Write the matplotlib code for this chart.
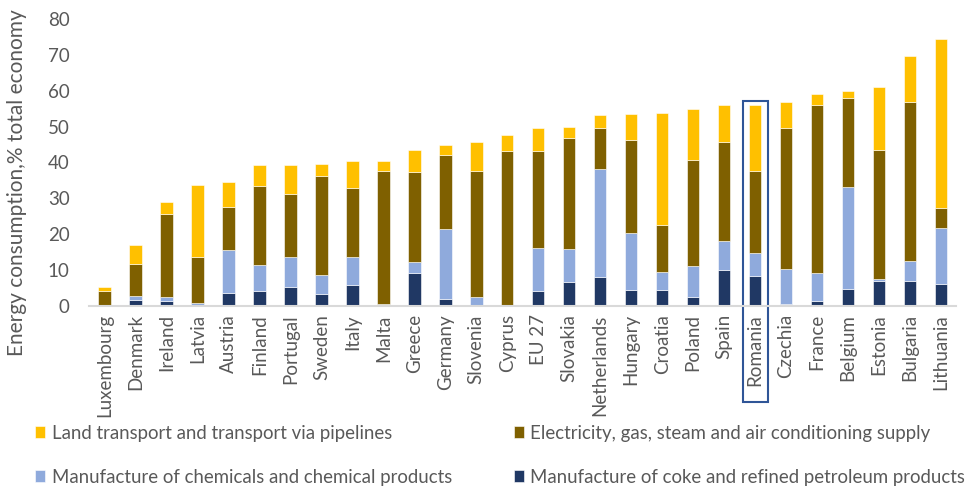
import matplotlib
matplotlib.use("Agg")
import matplotlib.pyplot as plt
from matplotlib.patches import Rectangle
import numpy as np

countries = ["Luxembourg", "Denmark", "Ireland", "Latvia", "Austria", "Finland",
             "Portugal", "Sweden", "Italy", "Malta", "Greece", "Germany",
             "Slovenia", "Cyprus", "EU 27", "Slovakia", "Netherlands", "Hungary",
             "Croatia", "Poland", "Spain", "Romania", "Czechia", "France",
             "Belgium", "Estonia", "Bulgaria", "Lithuania"]

coke = [0.0, 1.7, 1.3, 0.0, 3.7, 4.1, 5.3, 3.2, 5.9, 0.0, 9.2, 2.0,
        0.0, 0.0, 4.0, 6.7, 8.1, 4.3, 4.3, 2.5, 10.0, 8.3, 0.4, 1.3,
        4.6, 6.8, 6.8, 6.1]
chemicals = [0.3, 1.1, 1.2, 0.7, 11.8, 7.2, 8.4, 5.4, 7.6, 0.4, 3.0, 19.3,
             2.5, 0.0, 12.1, 9.1, 30.1, 16.1, 5.1, 8.7, 8.2, 6.3, 10.0, 7.9,
             28.5, 0.8, 5.7, 15.7]
electricity = [3.7, 8.8, 23.1, 12.8, 12.2, 22.2, 17.6, 27.5, 19.3, 37.3, 25.2, 20.9,
               35.2, 43.1, 27.0, 31.0, 11.4, 25.8, 13.1, 29.4, 27.6, 23.1, 39.2, 46.7,
               24.9, 35.8, 44.3, 5.5]
land_transport = [1.2, 5.4, 3.3, 20.3, 6.7, 5.8, 8.0, 3.5, 7.6, 2.7, 6.1, 2.7,
                  7.9, 4.6, 6.5, 3.0, 3.6, 7.3, 31.2, 14.4, 10.1, 18.2, 7.2, 3.3,
                  1.9, 17.6, 13.0, 47.1]

series = [
    ("Manufacture of coke and refined petroleum products", coke, "#203864"),
    ("Manufacture of chemicals and chemical products", chemicals, "#8FAADC"),
    ("Electricity, gas, steam and air conditioning supply", electricity, "#7F6000"),
    ("Land transport and transport via pipelines", land_transport, "#FFC000"),
]

highlight = "Romania"


def main():
    plt.rcParams["font.family"] = ["Lato", "DejaVu Sans"]
    fig = plt.figure(figsize=(9.79, 4.87), dpi=100)
    ax = fig.add_axes([0.091, 0.372, 0.886, 0.589])

    x = np.arange(len(countries))
    bottom = np.zeros(len(countries))
    handles = {}
    for name, vals, color in series:
        vals = np.array(vals)
        bars = ax.bar(x, vals, 0.4, bottom=bottom, color=color,
                      edgecolor="white", linewidth=0.4, label=name)
        handles[name] = bars
        bottom += vals

    ax.set_xlim(-0.5, len(countries) - 0.5)
    ax.set_ylim(0, 80)
    ax.set_yticks(range(0, 81, 10))
    ax.set_xticks(x)
    ax.set_xticklabels(countries, rotation=90, fontsize=13.5, color="#595959")
    ax.tick_params(axis="y", labelsize=13.5, labelcolor="#595959", length=0, pad=14)
    ax.tick_params(axis="x", length=0, pad=6)
    for side in ["top", "right", "left"]:
        ax.spines[side].set_visible(False)
    ax.spines["bottom"].set_color("#D9D9D9")
    ax.spines["bottom"].set_linewidth(1.5)
    ax.set_ylabel("Energy consumption,% total economy", fontsize=15,
                  color="#595959")
    ax.yaxis.set_label_coords(-0.072, 0.43)

    # box around the highlighted country
    i = countries.index(highlight)
    ax.add_patch(Rectangle((i - 0.4, -26.8), 0.8, 84.0, fill=False,
                           edgecolor="#2F5597", linewidth=1.5, clip_on=False))

    # column-wise fill: row 1 = land, electricity; row 2 = chemicals, coke
    order = [series[3][0], series[1][0], series[2][0], series[0][0]]
    fig.legend([handles[n] for n in order], order, loc="upper left",
               bbox_to_anchor=(0.036, 0.128), ncol=2, frameon=False,
               fontsize=13.4, labelcolor="#595959", handlelength=0.55,
               handleheight=0.55, handletextpad=0.35, columnspacing=3.3,
               labelspacing=1.45, borderpad=0, borderaxespad=0)

    fig.savefig("out.png", dpi=100)


if __name__ == "__main__":
    main()
